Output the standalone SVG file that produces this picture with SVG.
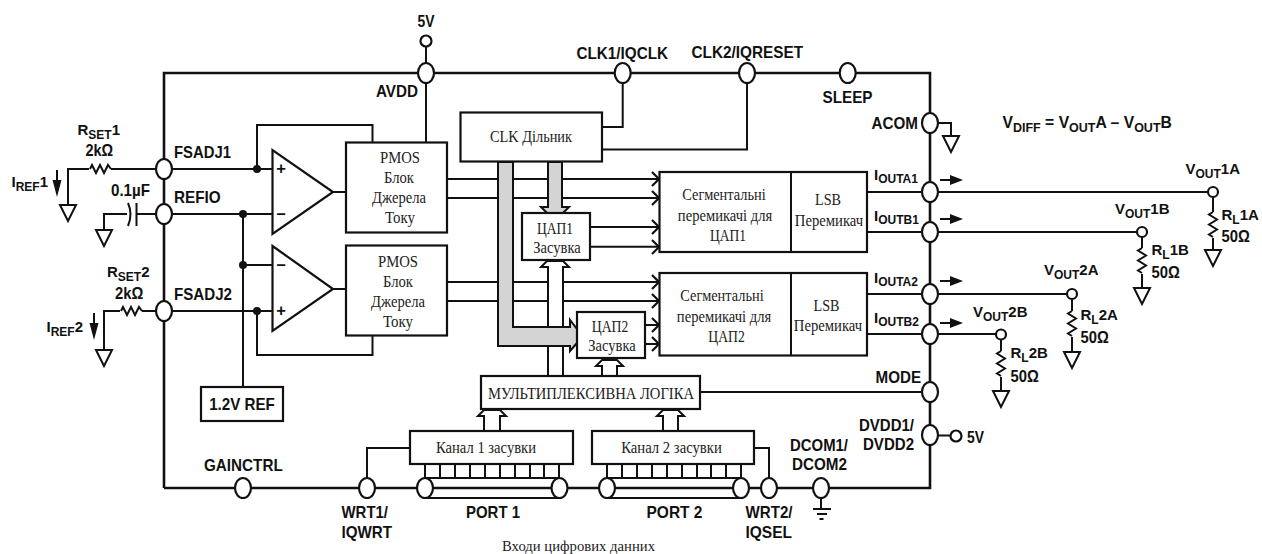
<svg xmlns="http://www.w3.org/2000/svg" width="1262" height="554" viewBox="0 0 1262 554">
<style>
.b{font-family:"Liberation Sans",Arial,sans-serif;font-weight:bold;font-size:16.5px;fill:#111}
.c{text-anchor:middle}
.n{font-size:15px}
.sub{font-size:12px}
.s{font-family:"Liberation Serif","Times New Roman",serif;font-size:16.5px;fill:#222;text-anchor:middle}
.box{fill:#fff;stroke:#111;stroke-width:2.2}
.pin{fill:#fff;stroke:#111;stroke-width:2.2}
.w{fill:none;stroke:#111;stroke-width:2;stroke-linejoin:miter}
.m{fill:none;stroke:#111;stroke-width:2.6;stroke-linejoin:miter}
.d{fill:#111;stroke:none}
.bus{fill:#d4d4d4;stroke:#111;stroke-width:2;stroke-linejoin:miter}
.wb{fill:#fff;stroke:#111;stroke-width:2;stroke-linejoin:miter}
</style>
<defs>
<path id="gnd" d="M-8,0H8L0,16Z" fill="#fff" stroke="#111" stroke-width="2"/>
<path id="rh" d="M0,0l2,-4l4,8l4,-8l4,8l4,-8l3,4" fill="none" stroke="#111" stroke-width="2"/>
<path id="rv" d="M0,0l-4,2.500l8,5l-8,5l8,5l-8,5l4,2.500" fill="none" stroke="#111" stroke-width="2"/>
<path id="chev" d="M-7,-7L0,0L-7,7" fill="none" stroke="#111" stroke-width="2.200"/>
<path id="ra" d="M0,-1H10V-5L23,0L10,5V1H0Z" fill="#111"/>
<path id="da" d="M-1,0H1V10H4.500L0,27L-4.500,10H-1Z" fill="#111"/>
</defs>
<rect width="1262" height="554" fill="#fff"/>

<g id="connectors">
<path class="m" d="M164,488V73H930V488H164"/>
<path class="w" d="M426,41V142M602,127H622.700V73M602,149.500H747V73"/>
<path class="w" d="M257,169V125H372.500V142M257,311V355H372.500V335"/>
<path class="w" d="M164,169H272M164,214H272M164,311H272M243,214V387M243,265H272"/>
<path class="w" d="M333,192H346M333,289H346"/>
<path class="w" d="M68,205V169H89M111,169H156"/>
<use href="#rh" x="90" y="169"/><use href="#gnd" x="68" y="205"/><use href="#da" x="57" y="170"/>
<path class="w" d="M104,230V214H127M137,214H156"/>
<path class="w" d="M136.500,203V226"/><path class="w" d="M128,203Q133,214 128,226"/>
<use href="#gnd" x="104" y="230"/>
<path class="w" d="M104,350V311H120M142,311H156"/>
<use href="#rh" x="121" y="311"/><use href="#gnd" x="104" y="350"/><use href="#da" x="94" y="313"/>
<path class="w" d="M938,123H951V136"/><use href="#gnd" x="951" y="136"/>

<path class="w" d="M447,179H659M447,198H659M447,282H659M447,301H659"/>
<path class="w" d="M590,227H659M590,246.700H659M645,325H659M645,344H659"/>
<use href="#chev" x="659" y="179"/><use href="#chev" x="659" y="198"/><use href="#chev" x="659" y="227"/><use href="#chev" x="659" y="247"/>
<use href="#chev" x="659" y="282"/><use href="#chev" x="659" y="301"/><use href="#chev" x="659" y="325"/><use href="#chev" x="659" y="344"/>
<path class="wb" d="M548,376V267H541L547,261H563L569,267H563V376"/>
<path class="bus" d="M548,162V207H541L547,213H563L569,207H562V162Z"/>
<path class="bus" d="M498,162V346H570V351L577,343V329L570,320V327H513V162Z"/>
<path class="wb" d="M602,376V366H596L602,360H617L623,366H617V376"/>
<path class="wb" d="M484,431V416H478L484,410H500L506,416H500V431"/>
<path class="wb" d="M663,431V416H657L663,410H678L684,416H678V431"/>
<path class="w" d="M700,392H922M867,192H1213M867,232H1142M867,294H1072M867,334H1001"/>
<path class="w" d="M1213,197V212M1213,238V250"/><use href="#rv" x="1213" y="212"/><use href="#gnd" x="1213" y="250"/>
<path class="w" d="M1142,237V248M1142,274V288"/><use href="#rv" x="1142" y="248"/><use href="#gnd" x="1142" y="288"/>
<path class="w" d="M1072,299V311M1072,337V352"/><use href="#rv" x="1072" y="311"/><use href="#gnd" x="1072" y="352"/>
<path class="w" d="M1001,340V351M1001,377V391"/><use href="#rv" x="1001" y="351"/><use href="#gnd" x="1001" y="391"/>
<use href="#ra" x="940" y="180"/><use href="#ra" x="940" y="219"/><use href="#ra" x="940" y="281"/><use href="#ra" x="940" y="323"/>
<path class="w" d="M367,488V448H410M769,488V448H754"/>
<path class="w" d="M425,464V478M440,464V478M455,464V478M470,464V478M485,464V478M500,464V478M515,464V478M530,464V478M544,464V478M559,464V478"/>
<path class="w" d="M607,464V478M622,464V478M637,464V478M652,464V478M667,464V478M682,464V478M697,464V478M711,464V478M726,464V478M741,464V478"/>
<path class="w" d="M425,478H559M425,498H559M607,478H741M607,498H741"/>
<path class="w" d="M567.500,488H599"/>
<path class="w" d="M821,498V509M813,509H831M817,514H827M819.500,519H823.500"/>
<path class="w" d="M938,435.500H951"/>
<circle class="d" cx="257" cy="169" r="4"/><circle class="d" cx="243" cy="214" r="4"/><circle class="d" cx="243" cy="265" r="4"/><circle class="d" cx="257" cy="311" r="4"/>
</g>

<g id="opamp1"><path class="box" d="M272.500,150V234L333,192Z"/><text class="b c" x="281" y="174">+</text><text class="b c" x="281" y="219">–</text></g>
<g id="opamp2"><path class="box" d="M272.500,246V331L333,289Z"/><text class="b c" x="281" y="270">–</text><text class="b c" x="281" y="316">+</text></g>
<g id="pmos1"><rect class="box" x="346" y="142.500" width="101" height="90"/><text class="s" x="400" y="163" textLength="40" lengthAdjust="spacingAndGlyphs">PMOS</text><text class="s" x="399" y="183" textLength="30" lengthAdjust="spacingAndGlyphs">Блок</text><text class="s" x="399" y="203" textLength="54" lengthAdjust="spacingAndGlyphs">Джерела</text><text class="s" x="400" y="223" textLength="30" lengthAdjust="spacingAndGlyphs">Току</text></g>
<g id="pmos2"><rect class="box" x="346" y="245.500" width="101" height="90"/><text class="s" x="398" y="267" textLength="40" lengthAdjust="spacingAndGlyphs">PMOS</text><text class="s" x="398" y="287" textLength="30" lengthAdjust="spacingAndGlyphs">Блок</text><text class="s" x="398" y="307" textLength="54" lengthAdjust="spacingAndGlyphs">Джерела</text><text class="s" x="398" y="327" textLength="30" lengthAdjust="spacingAndGlyphs">Току</text></g>
<g id="clk"><rect class="box" x="460.500" y="112.500" width="141.500" height="49"/><text class="s" x="531" y="142" textLength="82" lengthAdjust="spacingAndGlyphs">CLK Дільник</text></g>
<g id="dac1-latch"><rect class="box" x="522" y="213" width="68" height="47"/><text class="s" x="555" y="234" textLength="36" lengthAdjust="spacingAndGlyphs">ЦАП1</text><text class="s" x="557" y="253" textLength="47.300" lengthAdjust="spacingAndGlyphs">Засувка</text></g>
<g id="dac2-latch"><rect class="box" x="577" y="312" width="68" height="46"/><text class="s" x="610" y="332" textLength="36.500" lengthAdjust="spacingAndGlyphs">ЦАП2</text><text class="s" x="612" y="351" textLength="47.300" lengthAdjust="spacingAndGlyphs">Засувка</text></g>
<g id="seg1"><rect class="box" x="659.500" y="172" width="207.500" height="80"/><path class="w" d="M791,172V252"/><text class="s" x="724" y="200" textLength="83.300" lengthAdjust="spacingAndGlyphs">Сегментальні</text><text class="s" x="725" y="220.500" textLength="94.300" lengthAdjust="spacingAndGlyphs">перемикачі для</text><text class="s" x="728" y="240.500" textLength="36" lengthAdjust="spacingAndGlyphs">ЦАП1</text><text class="s" x="828" y="205" textLength="26" lengthAdjust="spacingAndGlyphs">LSB</text><text class="s" x="829" y="226" textLength="68.300" lengthAdjust="spacingAndGlyphs">Перемикач</text></g>
<g id="seg2"><rect class="box" x="659.500" y="273" width="207.500" height="82.500"/><path class="w" d="M791,273V355.500"/><text class="s" x="722" y="301" textLength="83.300" lengthAdjust="spacingAndGlyphs">Сегментальні</text><text class="s" x="724" y="321.500" textLength="94.300" lengthAdjust="spacingAndGlyphs">перемикачі для</text><text class="s" x="726.500" y="341.500" textLength="36.500" lengthAdjust="spacingAndGlyphs">ЦАП2</text><text class="s" x="826.500" y="311" textLength="26" lengthAdjust="spacingAndGlyphs">LSB</text><text class="s" x="828" y="331" textLength="68.300" lengthAdjust="spacingAndGlyphs">Перемикач</text></g>
<g id="mux"><rect class="box" x="481" y="376" width="219" height="33"/><text class="s" x="591" y="399" textLength="206" lengthAdjust="spacingAndGlyphs">МУЛЬТИПЛЕКСИВНА ЛОГІКА</text></g>
<g id="ch1"><rect class="box" x="410" y="431" width="163" height="33"/><text class="s" x="486" y="453" textLength="100" lengthAdjust="spacingAndGlyphs">Канал 1 засувки</text></g>
<g id="ch2"><rect class="box" x="592" y="431" width="162" height="33"/><text class="s" x="671.500" y="453" textLength="100.500" lengthAdjust="spacingAndGlyphs">Канал 2 засувки</text></g>
<g id="ref"><rect class="box" x="201" y="387" width="82" height="34"/><text class="b c" x="242" y="410" textLength="65.700" lengthAdjust="spacingAndGlyphs">1.2V REF</text></g>

<g id="pin-5v-top"><circle class="pin" cx="426" cy="41" r="5.500"/><text class="b c" x="426" y="26.500" textLength="17" lengthAdjust="spacingAndGlyphs">5V</text></g>
<g id="pin-avdd"><ellipse class="pin" cx="426" cy="73" rx="8" ry="10"/><text class="b" x="376" y="97" textLength="42" lengthAdjust="spacingAndGlyphs">AVDD</text></g>
<g id="pin-clk1"><ellipse class="pin" cx="622.700" cy="73" rx="8" ry="10"/><text class="b" x="576.500" y="58.500" textLength="91.500" lengthAdjust="spacingAndGlyphs">CLK1/IQCLK</text></g>
<g id="pin-clk2"><ellipse class="pin" cx="747" cy="73" rx="8" ry="10"/><text class="b" x="691.500" y="58" textLength="111.500" lengthAdjust="spacingAndGlyphs">CLK2/IQRESET</text></g>
<g id="pin-sleep"><ellipse class="pin" cx="847.700" cy="73" rx="8" ry="10"/><text class="b" x="822.500" y="102.500" textLength="50" lengthAdjust="spacingAndGlyphs">SLEEP</text></g>
<g id="pin-acom"><ellipse class="pin" cx="930" cy="123" rx="8" ry="10"/><text class="b" x="871.500" y="129" textLength="46.500" lengthAdjust="spacingAndGlyphs">ACOM</text></g>
<g id="pin-fsadj1"><ellipse class="pin" cx="164" cy="169" rx="8" ry="10"/><text class="b" x="174" y="158" textLength="57" lengthAdjust="spacingAndGlyphs">FSADJ1</text></g>
<g id="pin-refio"><ellipse class="pin" cx="164" cy="214" rx="8" ry="10"/><text class="b" x="174" y="203" textLength="46.700" lengthAdjust="spacingAndGlyphs">REFIO</text></g>
<g id="pin-fsadj2"><ellipse class="pin" cx="164" cy="311" rx="8" ry="10"/><text class="b" x="174" y="300" textLength="58" lengthAdjust="spacingAndGlyphs">FSADJ2</text></g>
<g id="pin-gainctrl"><ellipse class="pin" cx="243" cy="488" rx="8" ry="10"/><text class="b" x="204" y="470.500" textLength="78.700" lengthAdjust="spacingAndGlyphs">GAINCTRL</text></g>
<g id="pin-wrt1"><ellipse class="pin" cx="367" cy="488" rx="8" ry="10"/><text class="b" x="341.500" y="518" textLength="46.500" lengthAdjust="spacingAndGlyphs">WRT1/</text><text class="b" x="341.500" y="537.500" textLength="50.500" lengthAdjust="spacingAndGlyphs">IQWRT</text></g>
<g id="port1"><ellipse class="pin" cx="425" cy="488" rx="8" ry="10"/><ellipse class="pin" cx="559.500" cy="488" rx="8" ry="10"/><text class="b" x="466" y="518" textLength="54" lengthAdjust="spacingAndGlyphs">PORT 1</text></g>
<g id="port2"><ellipse class="pin" cx="607" cy="488" rx="8" ry="10"/><ellipse class="pin" cx="741" cy="488" rx="8" ry="10"/><text class="b" x="646.500" y="518" textLength="56" lengthAdjust="spacingAndGlyphs">PORT 2</text></g>
<g id="pin-wrt2"><ellipse class="pin" cx="769" cy="488" rx="8" ry="10"/><text class="b" x="745.500" y="518" textLength="47" lengthAdjust="spacingAndGlyphs">WRT2/</text><text class="b" x="745.500" y="537.500" textLength="46.500" lengthAdjust="spacingAndGlyphs">IQSEL</text></g>
<g id="pin-dcom"><ellipse class="pin" cx="821" cy="488" rx="8" ry="10"/><text class="b" x="790" y="450.500" textLength="58" lengthAdjust="spacingAndGlyphs">DCOM1/</text><text class="b" x="792" y="470" textLength="55" lengthAdjust="spacingAndGlyphs">DCOM2</text></g>
<g id="pin-dvdd"><ellipse class="pin" cx="930" cy="435" rx="8" ry="10"/><text class="b" x="859" y="430.500" textLength="55" lengthAdjust="spacingAndGlyphs">DVDD1/</text><text class="b" x="863" y="450" textLength="51" lengthAdjust="spacingAndGlyphs">DVDD2</text></g>
<g id="pin-5v-right"><circle class="pin" cx="956" cy="436" r="5.500"/><text class="b" x="967" y="442.500" textLength="17" lengthAdjust="spacingAndGlyphs">5V</text></g>
<g id="pin-mode"><ellipse class="pin" cx="930" cy="392" rx="8" ry="10"/><text class="b" x="875.500" y="383" textLength="45.500" lengthAdjust="spacingAndGlyphs">MODE</text></g>
<g id="pin-iouta1"><ellipse class="pin" cx="930" cy="192" rx="8" ry="10"/><text class="b n" x="874" y="180">I<tspan class="sub" dy="3">OUTA1</tspan></text></g>
<g id="pin-ioutb1"><ellipse class="pin" cx="930" cy="232" rx="8" ry="10"/><text class="b n" x="874" y="221">I<tspan class="sub" dy="3">OUTB1</tspan></text></g>
<g id="pin-iouta2"><ellipse class="pin" cx="930" cy="294" rx="8" ry="10"/><text class="b n" x="874" y="283">I<tspan class="sub" dy="3">OUTA2</tspan></text></g>
<g id="pin-ioutb2"><ellipse class="pin" cx="930" cy="334" rx="8" ry="10"/><text class="b n" x="874" y="322.500">I<tspan class="sub" dy="3">OUTB2</tspan></text></g>
<g id="out-1a"><circle class="pin" cx="1213" cy="192" r="5"/><text class="b n" x="1185.500" y="174">V<tspan class="sub" dy="4">OUT</tspan><tspan dy="-4">1A</tspan></text><text class="b n" x="1221.500" y="220">R<tspan class="sub" dy="4">L</tspan><tspan dy="-4">1A</tspan></text><text class="b" x="1221.500" y="241.500" textLength="28.300" lengthAdjust="spacingAndGlyphs">50Ω</text></g>
<g id="out-1b"><circle class="pin" cx="1142" cy="232" r="5"/><text class="b n" x="1115" y="214">V<tspan class="sub" dy="4">OUT</tspan><tspan dy="-4">1B</tspan></text><text class="b n" x="1151.500" y="255">R<tspan class="sub" dy="4">L</tspan><tspan dy="-4">1B</tspan></text><text class="b" x="1151.500" y="278" textLength="28.300" lengthAdjust="spacingAndGlyphs">50Ω</text></g>
<g id="out-2a"><circle class="pin" cx="1072" cy="294" r="5"/><text class="b n" x="1044" y="275">V<tspan class="sub" dy="4">OUT</tspan><tspan dy="-4">2A</tspan></text><text class="b n" x="1080.500" y="320">R<tspan class="sub" dy="4">L</tspan><tspan dy="-4">2A</tspan></text><text class="b" x="1080.500" y="342.500" textLength="28.300" lengthAdjust="spacingAndGlyphs">50Ω</text></g>
<g id="out-2b"><circle class="pin" cx="1001" cy="334.500" r="5"/><text class="b n" x="973" y="317">V<tspan class="sub" dy="4">OUT</tspan><tspan dy="-4">2B</tspan></text><text class="b n" x="1010.500" y="358">R<tspan class="sub" dy="4">L</tspan><tspan dy="-4">2B</tspan></text><text class="b" x="1010.500" y="381.500" textLength="28.300" lengthAdjust="spacingAndGlyphs">50Ω</text></g>

<g id="labels">
<text class="b n" x="77.500" y="135">R<tspan class="sub" dy="4">SET</tspan><tspan dy="-4">1</tspan></text><text class="b" x="85.500" y="156" textLength="27.700" lengthAdjust="spacingAndGlyphs">2kΩ</text>
<text class="b" x="111" y="195.500" textLength="39" lengthAdjust="spacingAndGlyphs">0.1µF</text>
<text class="b n" x="11.500" y="187">I<tspan class="sub" dy="4">REF</tspan><tspan dy="-4">1</tspan></text>
<text class="b n" x="107" y="276.500">R<tspan class="sub" dy="4">SET</tspan><tspan dy="-4">2</tspan></text><text class="b" x="115" y="299" textLength="28.300" lengthAdjust="spacingAndGlyphs">2kΩ</text>
<text class="b n" x="46.500" y="331.500">I<tspan class="sub" dy="4">REF</tspan><tspan dy="-4">2</tspan></text>
<text class="b" x="1002.500" y="128" style="font-size:15.700px">V<tspan style="font-size:12.500px" dy="4">DIFF</tspan><tspan dy="-4"> = V</tspan><tspan style="font-size:12.500px" dy="4">OUT</tspan><tspan dy="-4">A – V</tspan><tspan style="font-size:12.500px" dy="4">OUT</tspan><tspan dy="-4">B</tspan></text>
<text class="s" x="578.500" y="551" textLength="153" lengthAdjust="spacingAndGlyphs" style="font-size:15px">Входи цифрових данних</text>
</g>
</svg>
